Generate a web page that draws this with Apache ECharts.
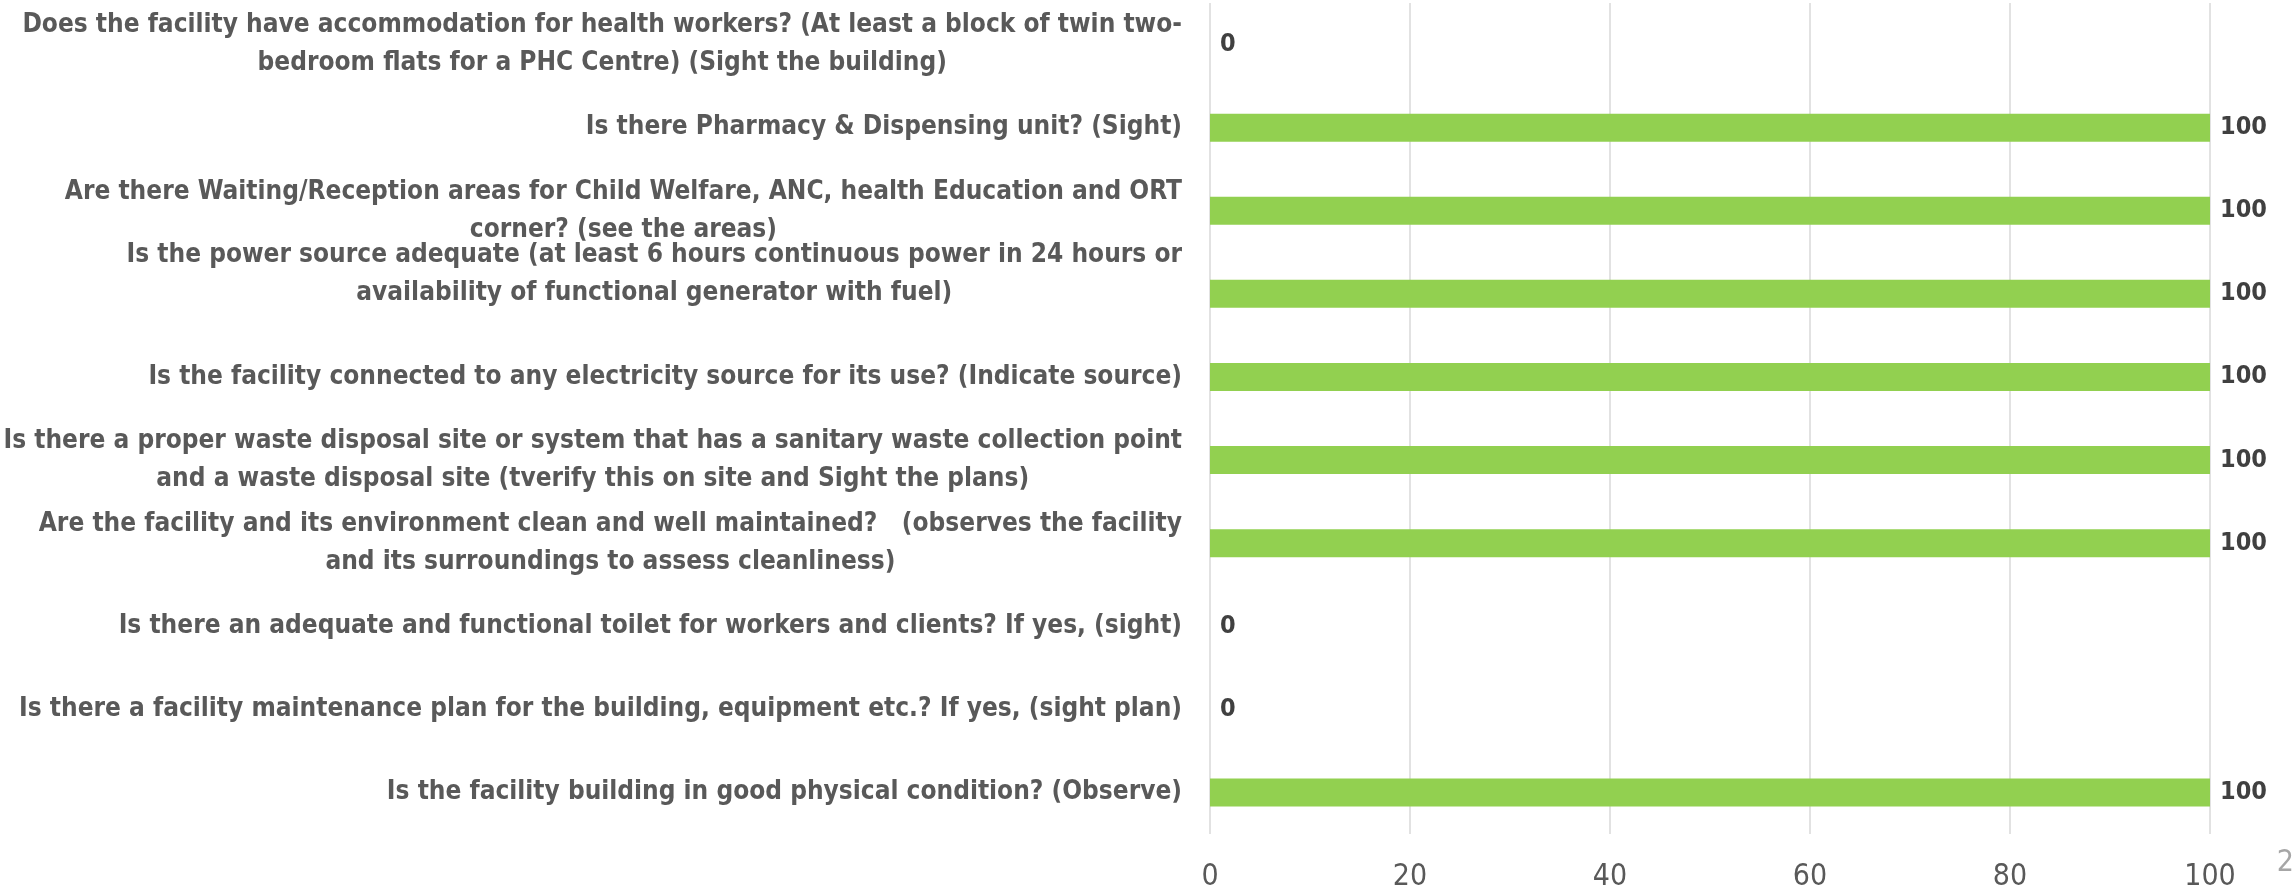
<!DOCTYPE html>
<html>
<head>
<meta charset="utf-8">
<script src="https://cdn.jsdelivr.net/npm/echarts@6/dist/echarts.min.js"></script>
<style>
  html, body { margin: 0; padding: 0; background: #fff; }
  #chart { width: 2294px; height: 891px; }
</style>
</head>
<body>
<div id="chart"></div>
<script>
// categories listed top to bottom, as in the picture
var questions = [
    'Does the facility have accommodation for health workers? (At least a block of twin two-\nbedroom flats for a PHC Centre) (Sight the building)',
    'Is there Pharmacy & Dispensing unit? (Sight)',
    'Are there Waiting/Reception areas for Child Welfare, ANC, health Education and ORT\ncorner? (see the areas)',
    'Is the power source adequate (at least 6 hours continuous power in 24 hours or\navailability of functional generator with fuel)',
    'Is the facility connected to any electricity source for its use? (Indicate source)',
    'Is there a proper waste disposal site or system that has a sanitary waste collection point\nand a waste disposal site (tverify this on site and Sight the plans)',
    'Are the facility and its environment clean and well maintained?   (observes the facility\nand its surroundings to assess cleanliness)',
    'Is there an adequate and functional toilet for workers and clients? If yes, (sight)',
    'Is there a facility maintenance plan for the building, equipment etc.? If yes, (sight plan)',
    'Is the facility building in good physical condition? (Observe)'
];
var scores = [0, 100, 100, 100, 100, 100, 100, 0, 0, 100];
var xTicks = [0, 20, 40, 60, 80, 100];

var font = '"DejaVu Sans Condensed", "Liberation Sans Narrow", "Noto Sans", sans-serif';

// the power-source label sits a little above its bar in the original
var catData = questions.map(function (q, i) {
    var item = { value: q };
    if (i === 3) {
        item.textStyle = { padding: [0, 0, 40, 0] };
    }
    return item;
});

var chart = echarts.init(document.getElementById('chart'));
chart.setOption({
    backgroundColor: '#fff',
    animation: false,
    grid: { left: 1210, right: 84, top: 3, bottom: 57, outerBoundsMode: 'none', containLabel: false },
    xAxis: {
        type: 'value',
        min: xTicks[0],
        max: xTicks[xTicks.length - 1],
        interval: 20,
        axisLine: { show: false },
        axisTick: { show: false },
        splitLine: { lineStyle: { color: '#D9D9D9', width: 1.5 } },
        axisLabel: {
            margin: 28,
            color: '#595959',
            fontFamily: font,
            fontSize: 30
        }
    },
    yAxis: {
        type: 'category',
        inverse: true,
        data: catData,
        axisLine: { show: false },
        axisTick: { show: false },
        axisLabel: {
            margin: 28,
            align: 'right',
            color: '#595959',
            fontFamily: font,
            fontWeight: 'bold',
            fontSize: 26,
            lineHeight: 38,
            // wrapped lines centred under the first line
            formatter: function (v) {
                return v.split('\n').map(function (l) {
                    return '{c|' + l + '}';
                }).join('\n');
            },
            rich: {
                c: {
                    align: 'center',
                    color: '#595959',
                    fontFamily: font,
                    fontWeight: 'bold',
                    fontSize: 26,
                    lineHeight: 38
                }
            }
        }
    },
    series: [{
        type: 'bar',
        data: scores,
        barWidth: 28,
        itemStyle: { color: '#92D050' },
        label: {
            show: true,
            position: 'right',
            distance: 10,
            color: '#404040',
            fontFamily: font,
            fontWeight: 'bold',
            fontSize: 25
        }
    }],
    graphic: [{
        type: 'text',
        right: 0,
        top: 848,
        style: {
            text: '2',
            fill: '#A6A6A6',
            font: '30px ' + font
        }
    }]
});
</script>
</body>
</html>
